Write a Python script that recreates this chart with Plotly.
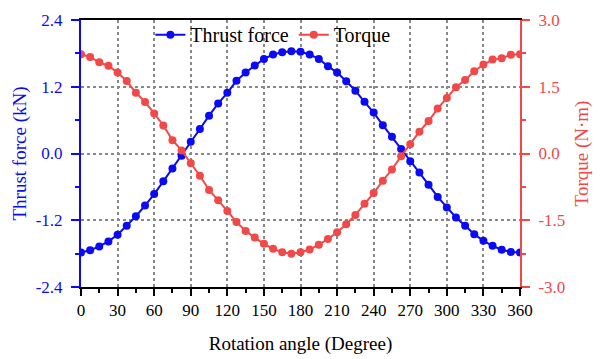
import plotly.graph_objects as go

angle = [i * 7.5 for i in range(49)]
thrust = [-1.78, -1.74, -1.67, -1.58, -1.46, -1.30, -1.13, -0.935, -0.73, -0.50, -0.27, -0.04,
          0.21, 0.44, 0.68, 0.90, 1.09, 1.31, 1.455, 1.58, 1.70, 1.78, 1.82, 1.84, 1.83, 1.78,
          1.70, 1.57, 1.455, 1.30, 1.13, 0.93, 0.735, 0.51, 0.30, 0.08, -0.14, -0.34, -0.56,
          -0.78, -0.97, -1.15, -1.30, -1.45, -1.57, -1.66, -1.73, -1.77, -1.78]
torque = [2.23, 2.17, 2.05, 1.97, 1.82, 1.63, 1.365, 1.16, 0.90, 0.63, 0.30, 0.07,
          -0.22, -0.50, -0.82, -1.05, -1.29, -1.54, -1.74, -1.89, -2.03, -2.14, -2.22, -2.25,
          -2.22, -2.16, -2.05, -1.92, -1.77, -1.59, -1.38, -1.13, -0.89, -0.61, -0.36, -0.06,
          0.21, 0.49, 0.73, 1.01, 1.25, 1.49, 1.65, 1.85, 2.00, 2.11, 2.14, 2.22, 2.23]

x_ticks = [0, 30, 60, 90, 120, 150, 180, 210, 240, 270, 300, 330, 360]
y1_ticks = [-2.4, -1.2, 0.0, 1.2, 2.4]
y1_text = ["-2.4", "-1.2", "0.0", "1.2", "2.4"]
y2_ticks = [-3.0, -1.5, 0.0, 1.5, 3.0]
y2_text = ["-3.0", "-1.5", "0.0", "1.5", "3.0"]

BLUE = "#0A0AF5"
RED = "#F24848"
FONT = "Liberation Serif, Times New Roman, serif"

fig = go.Figure()
fig.add_trace(go.Scatter(x=angle, y=thrust, name="Thrust force", mode="lines+markers",
                         line=dict(color=BLUE, width=2), marker=dict(size=8, color=BLUE)))
fig.add_trace(go.Scatter(x=angle, y=torque, name="Torque", mode="lines+markers", yaxis="y2",
                         line=dict(color=RED, width=2), marker=dict(size=8, color=RED)))

fig.update_layout(
    width=594, height=351,
    margin=dict(l=73, r=82, t=7, b=72),
    paper_bgcolor="white", plot_bgcolor="white",
    font=dict(family=FONT, size=17, color="black"),
    showlegend=True,
    legend=dict(orientation="h", x=0.158, y=0.945, xanchor="left", yanchor="middle",
                bgcolor="rgba(0,0,0,0)", font=dict(size=20, family=FONT, color="black"),
                itemwidth=30, tracegroupgap=0),
    xaxis=dict(range=[0, 360], tickvals=x_ticks, ticks="outside", ticklen=7, tickwidth=2,
               tickcolor="black", showline=True, linecolor="black", linewidth=2, mirror=True,
               showgrid=True, gridcolor="#888888", griddash="dot", gridwidth=1.5,
               zeroline=False, automargin=False, ticklabeloverflow="allow",
               tickfont=dict(size=17, color="black", family=FONT),
               minor=dict(ticks="outside", ticklen=4, tickwidth=2, dtick=15, tick0=0,
                          tickcolor="black", showgrid=False),
               title=dict(text="Rotation angle (Degree)",
                          font=dict(size=19, color="black", family=FONT), standoff=17)),
    yaxis=dict(range=[-2.4, 2.4], tickvals=y1_ticks, ticktext=y1_text, ticks="outside",
               ticklen=8, tickwidth=2, tickcolor=BLUE, showline=True, linecolor=BLUE,
               linewidth=2, showgrid=True, gridcolor="#888888", griddash="dot",
               gridwidth=1.5, zeroline=False, automargin=False, ticklabelstandoff=5,
               ticklabeloverflow="allow",
               tickfont=dict(size=17, color=BLUE, family=FONT),
               minor=dict(ticks="outside", ticklen=4, tickwidth=2, dtick=0.6, tick0=0,
                          tickcolor=BLUE, showgrid=False),
               title=dict(text="Thrust force (kN)", font=dict(size=19, color=BLUE, family=FONT),
                          standoff=4)),
    yaxis2=dict(range=[-3.0, 3.0], overlaying="y", side="right", tickvals=y2_ticks,
                ticktext=y2_text, ticks="outside", ticklen=8, tickwidth=2, tickcolor=RED,
                showline=True, linecolor=RED, linewidth=2, showgrid=False, zeroline=False,
                automargin=False, ticklabelstandoff=5, ticklabeloverflow="allow",
                tickfont=dict(size=17, color=RED, family=FONT),
                minor=dict(ticks="outside", ticklen=4, tickwidth=2, dtick=0.75, tick0=0,
                           tickcolor=RED, showgrid=False),
                title=dict(text="Torque (N·m)", font=dict(size=19, color=RED, family=FONT),
                           standoff=10)),
)

fig.write_html("out.html")
